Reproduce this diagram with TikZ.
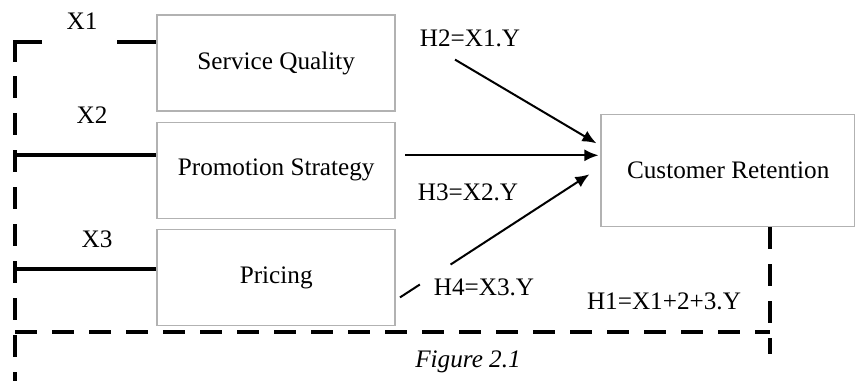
\documentclass[tikz,border=0pt]{standalone}
\usepackage{fontspec}
\setmainfont{Liberation Serif}
\usetikzlibrary{matrix,positioning,calc,arrows.meta}

\tikzset{
  box/.style={draw=black!30, line width=0.8pt, minimum width=119pt, minimum height=48pt, inner sep=0pt},
  dashframe/.style={line width=2pt, dash pattern=on 11pt off 7.5pt},
  xline/.style={line width=2pt},
  hyp/.style={-{Latex[length=7pt,width=6pt]}, line width=1pt},
}

\begin{document}
\begin{tikzpicture}[x=0.5pt,y=-0.5pt,font=\fontsize{12.6}{15}\selectfont]
		\useasboundingbox (0,0) rectangle (855,381);
		\matrix (m)[matrix of nodes, row sep=4.75pt, inner sep=0pt, anchor=north west,
					nodes={box}] at (156,14)
		{
		Service Quality\\
		Promotion Strategy\\
		Pricing\\
		};
		\node[box, minimum width=127pt, minimum height=56pt, right=102pt of m] (cr) {Customer Retention};

		\node (x1) at (82,21) {X1};
		\node (x2) at (92,115) {X2};
		\node (x3) at (97,239) {X3};
		\node (h2) at (470,38) {H2=X1.Y};
		\node (h3) at (468,192) {H3=X2.Y};
		\node (h4) at (484,287) {H4=X3.Y};
		\node (h1) at (664,301) {H1=X1+2+3.Y};
		\node (fig) at (468,362) {\textit{Figure 2.1}};

		% frame round the model
		\draw[xline] (42,42) -| (15,62);
		\draw[dashframe] (15,76) -- (15,381);
		\draw[xline] (117,42) -- (117,42 -| m-1-1.west);
		\draw[xline] (15,155) -- (15,155 -| m-2-1.west);
		\draw[xline] (15,269) -- (15,269 -| m-3-1.west);
		\draw[dashframe] (15,332) -- (770,332);
		\draw[dashframe] ([xshift=21pt]cr.south) -- ++(0,127);

		% hypotheses
		\draw[hyp] ([xshift=-7.5pt,yshift=-3pt]h2.south) -- ([xshift=-2pt,yshift=13.5pt]cr.west);
		\coordinate (p2) at ([xshift=4.5pt,yshift=7.5pt]m-2-1.east);
		\draw[hyp] (p2) -- ([xshift=-1pt]p2 -| cr.west);
		\coordinate (p3) at ([xshift=2pt,yshift=-10pt]m-3-1.east);
		\coordinate (q3) at ([xshift=-5.5pt,yshift=-2pt]cr.west);
		\draw[line width=1pt] (p3) -- ($(p3)!0.105!(q3)$);
		\draw[hyp] ($(p3)!0.267!(q3)$) -- (q3);
	\end{tikzpicture}
\end{document}
